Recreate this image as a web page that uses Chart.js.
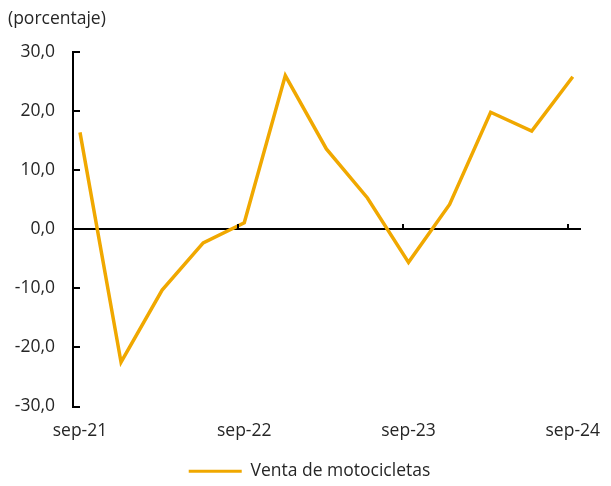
<!DOCTYPE html>
<html>
<head>
<meta charset="utf-8">
<script src="https://cdn.jsdelivr.net/npm/chart.js@4"></script>
<style>
  body { margin: 0; background: #fff; }
  #wrap { position: relative; width: 611px; height: 486px; }
  #unit { position: absolute; left: 8px; top: 5px; font: 17.5px "Open Sans", sans-serif; color: #262626; }
</style>
</head>
<body>
<div id="wrap">
  <div id="unit">(porcentaje)</div>
  <canvas id="motoChart" width="611" height="486"></canvas>
</div>
<script>
// Venta de motocicletas, variación anual (%), trimestral sep-21 .. sep-24
const periods = ['sep-21', 'dic-21', 'mar-22', 'jun-22', 'sep-22', 'dic-22', 'mar-23',
                 'jun-23', 'sep-23', 'dic-23', 'mar-24', 'jun-24', 'sep-24'];
const ventaMotos = [16.4, -22.5, -10.3, -2.3, 1.1, 26.0, 13.6, 5.3, -5.6, 4.2, 19.8, 16.6, 25.8];
const xLabelIdx = [0, 4, 8, 12];
const yTicks = [-30, -20, -10, 0, 10, 20, 30];

const fontFam = '"Open Sans", sans-serif';
const txt = '#262626';

// inward ticks on the y axis, upward ticks on the zero line every 4 quarters
const axisTicks = {
    id: 'axisTicks',
    afterLayout(chart) {
        // legend sits a bit right of centre and lower in the original
        const lg = chart.legend;
        lg.left += 19;
        lg.right += 19;
        lg.top += 4;
        lg.bottom += 4;
    },
    afterDraw(chart) {
        const c = chart.ctx, y = chart.scales.y, x = chart.scales.x;
        c.save();
        c.strokeStyle = '#000';
        c.lineWidth = 2;
        yTicks.forEach(v => {
            const py = Math.round(y.getPixelForValue(v));
            c.beginPath();
            c.moveTo(y.right, py);
            c.lineTo(y.right + 7, py);
            c.stroke();
        });
        const y0 = Math.round(y.getPixelForValue(0));
        for (let v = x.min + 4.02; v < x.max; v += 4.02) {
            const px = Math.round(x.getPixelForValue(v));
            c.beginPath();
            c.moveTo(px, y0);
            c.lineTo(px, y0 - 5);
            c.stroke();
        }
        c.restore();
    }
};

const ctx = document.getElementById('motoChart').getContext('2d');
const motoChart = new Chart(ctx, {
    type: 'line',
    data: {
        datasets: [{
            label: 'Venta de motocicletas',
            data: ventaMotos.map((v, i) => ({ x: i, y: v })),
            borderColor: '#F0A800',
            backgroundColor: '#F0A800',
            borderWidth: 3.5,
            pointRadius: 0,
            tension: 0
        }]
    },
    options: {
        responsive: false,
        animation: false,
        layout: { padding: { top: 52, right: 30, left: 0, bottom: 0 } },
        plugins: {
            legend: {
                position: 'bottom',
                labels: {
                    boxWidth: 53,
                    boxHeight: 3,
                    padding: 4,
                    color: txt,
                    font: { family: fontFam, size: 17.5 },
                    generateLabels: chart => Chart.defaults.plugins.legend.labels.generateLabels(chart)
                        .map(l => Object.assign(l, { lineWidth: 0 }))
                }
            },
            tooltip: { enabled: false }
        },
        scales: {
            x: {
                type: 'linear',
                min: -0.17,
                max: 12.2,
                afterBuildTicks: s => { s.ticks = xLabelIdx.map(v => ({ value: v })); },
                afterFit: s => { s.height = 48; s.paddingLeft = 0; s.paddingRight = 0; },
                ticks: {
                    callback: v => periods[v],
                    color: txt,
                    maxRotation: 0,
                    padding: 6,
                    font: { family: fontFam, size: 17.5 }
                },
                grid: { display: false },
                border: { display: false }
            },
            y: {
                min: -30,
                max: 30,
                afterBuildTicks: s => { s.ticks = yTicks.map(v => ({ value: v })); },
                afterFit: s => { s.width = 73; },
                ticks: {
                    callback: v => v.toFixed(1).replace('.', ','),
                    color: txt,
                    padding: 18,
                    font: { family: fontFam, size: 17.5 }
                },
                grid: {
                    drawTicks: false,
                    color: c => c.tick && c.tick.value === 0 ? '#000' : 'rgba(0,0,0,0)',
                    lineWidth: 2
                },
                border: { display: true, color: '#000', width: 2 }
            }
        }
    },
    plugins: [axisTicks]
});
</script>
</body>
</html>
